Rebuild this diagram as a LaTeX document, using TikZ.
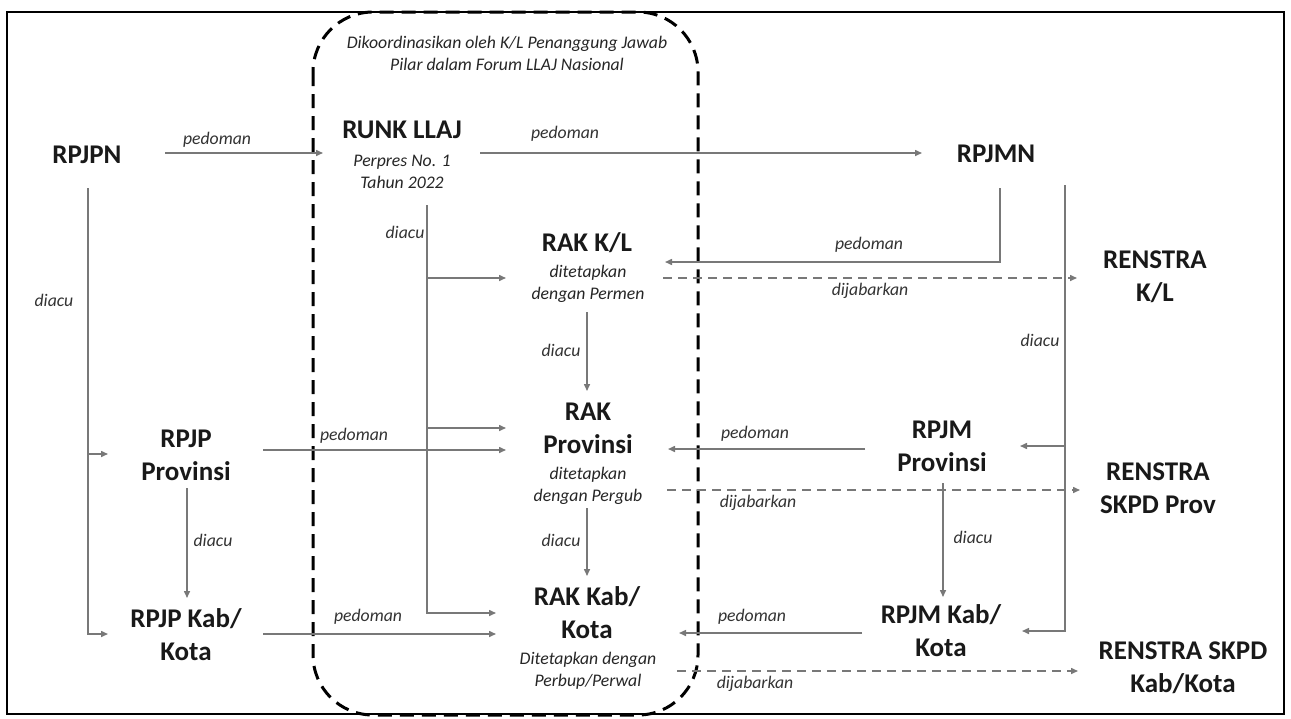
\documentclass[tikz,border=0pt]{standalone}
\usepackage{fontspec}
\setmainfont{Carlito}
\usetikzlibrary{arrows.meta}
\definecolor{linkgray}{RGB}{120,120,120}
\begin{document}
% multi-line nodes are placed by the baseline of their last line
\begin{tikzpicture}[x=1pt,y=-1pt,
  doc/.style={font=\bfseries\fontsize{27}{33}\selectfont, align=center, inner sep=0pt, anchor=base, text=black!90},
  note/.style={font=\itshape\fontsize{17.7}{22}\selectfont, align=center, inner sep=0pt, anchor=base, text=black!85},
  lbl/.style={font=\itshape\fontsize{17.7}{20}\selectfont, inner sep=0pt, text=black!80},
  plain/.style={draw=linkgray, line width=1.5pt},
  link/.style={plain, -{Triangle[length=7pt,width=6pt]}},
  derive/.style={link, dash pattern=on 9pt off 6pt},
]
\useasboundingbox (0,0) rectangle (1291,718);
\fill[white] (0,0) rectangle (1291,718);
% outer frame and the coordinating forum
\draw[line width=1.5pt] (7,12) rectangle (1284,714);
\draw[line width=3pt, dash pattern=on 14pt off 8pt, rounded corners=60pt] (313,12) rectangle (698,715);
\node[note] (forum) at (507,70) {Dikoordinasikan oleh K/L Penanggung Jawab\\Pilar dalam Forum LLAJ Nasional};

% documents
\node[doc] (rpjpn) at (87,163) {RPJPN};
\node[doc] (runk) at (402,138) {RUNK LLAJ};
\node[note] (runksub) at (402,188) {Perpres No. 1\\Tahun 2022};
\node[doc] (rpjmn) at (996,162) {RPJMN};
\node[doc] (rakkl) at (587,251) {RAK K/L};
\node[note] (rakklsub) at (588,299) {ditetapkan\\dengan Permen};
\node[doc] (rakprov) at (588,453) {RAK\\Provinsi};
\node[note] (rakprovsub) at (588,501) {ditetapkan\\dengan Pergub};
\node[doc] (rakkab) at (587,638) {RAK Kab/\\Kota};
\node[note] (rakkabsub) at (588,686) {Ditetapkan dengan\\Perbup/Perwal};
\node[doc] (rpjpprov) at (186,480) {RPJP\\Provinsi};
\node[doc] (rpjpkab) at (186,660) {RPJP Kab/\\Kota};
\node[doc] (rpjmprov) at (942,471) {RPJM\\Provinsi};
\node[doc] (rpjmkab) at (941,656) {RPJM Kab/\\Kota};
\node[doc] (renkl) at (1155,301) {RENSTRA\\K/L};
\node[doc] (renprov) at (1158,513) {RENSTRA\\SKPD Prov};
\node[doc] (renkab) at (1183,692) {RENSTRA SKPD\\Kab/Kota};

% connector ports
\coordinate (rpjpn-out) at (165,153);   \coordinate (runk-in) at (323,153);
\coordinate (runk-out) at (480,153);    \coordinate (rpjmn-in) at (922,153);
\coordinate (rpjpn-down) at (88,188);
\coordinate (rpjpprov-in) at (108,454); \coordinate (rpjpkab-in) at (108,634);
\coordinate (rpjpprov-down) at (187,488); \coordinate (rpjpkab-top) at (187,598);
\coordinate (runk-down) at (427,205);
\coordinate (rakkl-in) at (506,278); \coordinate (rakprov-in1) at (506,428); \coordinate (rakkab-in1) at (496,613);
\coordinate (rakkl-down) at (587,312); \coordinate (rakprov-top) at (587,391);
\coordinate (rpjpprov-out) at (263,450); \coordinate (rakprov-in2) at (506,450);
\coordinate (rakprov-down) at (587,508); \coordinate (rakkab-top) at (587,576);
\coordinate (rpjpkab-out) at (263,634); \coordinate (rakkab-in2) at (496,634);
\coordinate (rpjmn-down) at (1000,188); \coordinate (rakkl-in2) at (665,262);
\coordinate (rakkl-out) at (663,278); \coordinate (renkl-in) at (1077,278);
\coordinate (rpjmn-right) at (1065,185);
\coordinate (rpjmprov-in) at (1020,446); \coordinate (rpjmkab-in) at (1022,631);
\coordinate (rpjmprov-out) at (865,449); \coordinate (rakprov-in3) at (668,449);
\coordinate (rakprov-out) at (667,490); \coordinate (renprov-in) at (1080,490);
\coordinate (rpjmprov-down) at (943,483); \coordinate (rpjmkab-top) at (943,597);
\coordinate (rpjmkab-out) at (862,633); \coordinate (rakkab-in3) at (679,633);
\coordinate (rakkab-out) at (677,671); \coordinate (renkab-in) at (1078,671);

% connectors
\draw[link] (rpjpn-out) -- (runk-in);
\draw[link] (runk-out) -- (rpjmn-in);
\draw[link] (rpjpn-down) |- (rpjpkab-in);
\draw[link] (rpjpn-down |- rpjpprov-in) -- (rpjpprov-in);
\draw[link] (rpjpprov-down) -- (rpjpkab-top);
\draw[link] (runk-down) |- (rakkab-in1);
\draw[link] (runk-down |- rakkl-in) -- (rakkl-in);
\draw[link] (runk-down |- rakprov-in1) -- (rakprov-in1);
\draw[link] (rakkl-down) -- (rakprov-top);
\draw[link] (rpjpprov-out) -- (rakprov-in2);
\draw[link] (rakprov-down) -- (rakkab-top);
\draw[link] (rpjpkab-out) -- (rakkab-in2);
\draw[link] (rpjmn-down) |- (rakkl-in2);
\draw[derive] (rakkl-out) -- (renkl-in);
\draw[link] (rpjmn-right) |- (rpjmkab-in);
\draw[link] (rpjmn-right |- rpjmprov-in) -- (rpjmprov-in);
\draw[link] (rpjmprov-out) -- (rakprov-in3);
\draw[derive] (rakprov-out) -- (renprov-in);
\draw[link] (rpjmprov-down) -- (rpjmkab-top);
\draw[link] (rpjmkab-out) -- (rakkab-in3);
\draw[derive] (rakkab-out) -- (renkab-in);

% connector labels
\node[lbl] (l1) at (217,140) {pedoman};
\node[lbl] (l2) at (565,134) {pedoman};
\node[lbl] (l3) at (54,300) {diacu};
\node[lbl] (l4) at (213,540) {diacu};
\node[lbl] (l5) at (405,232) {diacu};
\node[lbl] (l6) at (561,350) {diacu};
\node[lbl] (l7) at (354,436) {pedoman};
\node[lbl] (l8) at (561,540) {diacu};
\node[lbl] (l9) at (368,617) {pedoman};
\node[lbl] (l10) at (869,245) {pedoman};
\node[lbl] (l11) at (870,291) {dijabarkan};
\node[lbl] (l12) at (1040,340) {diacu};
\node[lbl] (l13) at (755,434) {pedoman};
\node[lbl] (l14) at (758,503) {dijabarkan};
\node[lbl] (l15) at (973,537) {diacu};
\node[lbl] (l16) at (752,617) {pedoman};
\node[lbl] (l17) at (755,684) {dijabarkan};
\end{tikzpicture}
\end{document}
